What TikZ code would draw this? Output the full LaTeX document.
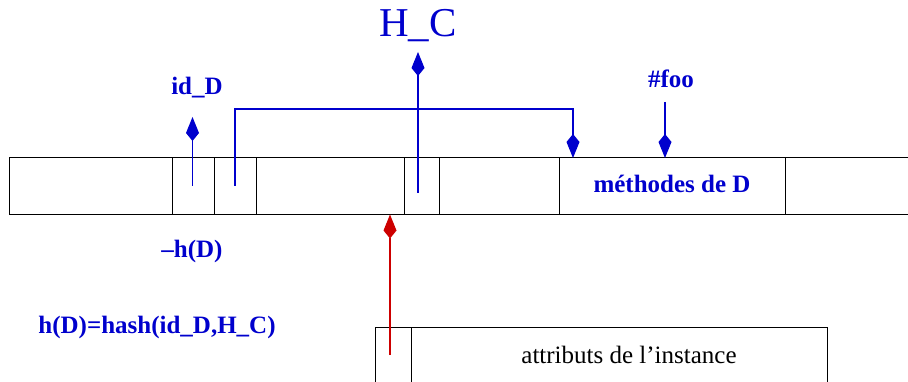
\documentclass[tikz,border=0pt]{standalone}
\usepackage{fontspec}
\setmainfont{Liberation Serif}
\usetikzlibrary{arrows.meta}
\definecolor{fblue}{RGB}{0,0,205}
\definecolor{fred}{RGB}{205,0,0}
\begin{document}
\begin{tikzpicture}[x=1pt,y=-1pt,
  box/.style={draw=black, line width=0.8pt, inner sep=0pt, anchor=north west},
  kitetip/.style={-{Kite[length=24pt,width=13pt,inset=8pt]}},
  bl/.style={draw=fblue, line width=1.2pt, kitetip},
  rl/.style={draw=fred, line width=1.2pt, kitetip},
  lbl/.style={text=fblue, font=\fontsize{25}{28}\selectfont\bfseries, anchor=base, inner sep=0pt},
  plain/.style={text=black, font=\fontsize{25}{28}\selectfont, anchor=base, inner sep=0pt}
]
\useasboundingbox (0,0) rectangle (908,382);
% main strip
\draw[line width=0.8pt] (912,157.5) -- (9,157.5) -- (9,214) -- (912,214);
\node[box, minimum width=42.3pt, minimum height=56.5pt] (c1) at (172,157.5) {};
\node[box, minimum width=42pt, minimum height=56.5pt] (c2) at (214.3,157.5) {};
\node[box, minimum width=35pt, minimum height=56.5pt] (c3) at (404.3,157.5) {};
\node[box, minimum width=226pt, minimum height=56.5pt] (meth) at (559,157.5) {};
\node[lbl] (methtxt) at (672,193) {méthodes de D};
% instance box
\draw[line width=0.8pt] (375.5,390) -- (375.5,327) -- (827,327) -- (827,390);
\draw[line width=0.8pt] (411.7,327) -- (411.7,390);
\node[plain] (attr) at (629,363) {attributs de l’instance};
% coordinates
\coordinate (a1s) at (192.5,186);
\coordinate (a1t) at (192.5,117);
\coordinate (b1) at (235,186);
\coordinate (b2) at (235,109);
\coordinate (b3) at (573,109);
\coordinate (b4) at (573,158);
\coordinate (hs) at (418,193);
\coordinate (ht) at (418,52);
\coordinate (fs) at (665,102);
\coordinate (ft) at (665,158);
\coordinate (rs) at (390,355);
\coordinate (rt) at (390,214.5);
% arrows
\draw[bl] (a1s) -- (a1t);
\draw[bl] (b1) -- (b2) -- (b3) -- (b4);
\draw[bl] (hs) -- (ht);
\draw[bl] (fs) -- (ft);
\draw[rl] (rs) -- (rt);
% labels
\node[lbl] (idD) at (197,95) {id\_D};
\node[text=fblue, font=\fontsize{41}{45}\selectfont, anchor=base, inner sep=0pt] (HC) at (418,37) {H\_C};
\node[lbl] (foo) at (671,88) {\#foo};
\node[lbl] (mh) at (192,258) {–h(D)};
\node[lbl] (hash) at (157,333) {h(D)=hash(id\_D,H\_C)};
\end{tikzpicture}
\end{document}
